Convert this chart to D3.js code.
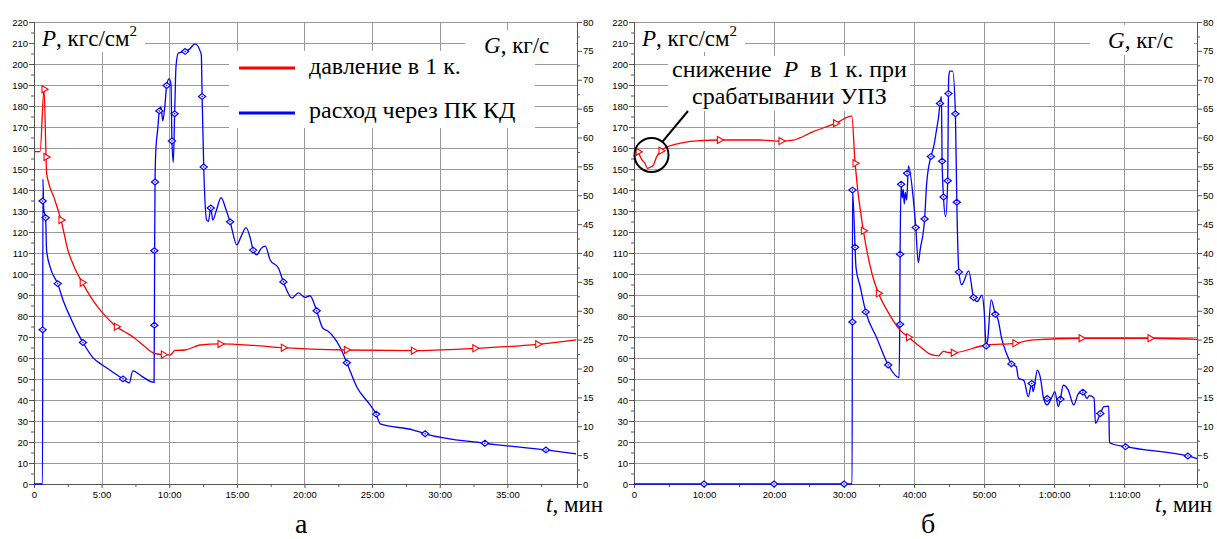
<!DOCTYPE html>
<html>
<head>
<meta charset="utf-8">
<script src="https://cdn.jsdelivr.net/npm/d3@7"></script>
<style>
body { margin: 0; background: #fff; }
</style>
</head>
<body>
<script>
// --- data, [minutes, value] ---
// panel "а": pressure P (kgf/cm2, left axis) and flow G (kg/s, right axis)
var pressA = [[0,158.3],[0.45,158.3],[0.74,188],[0.89,155.7],[0.93,148],[1.5,136],[2.0,125.7],[2.5,111.5],
  [3.0,103],[3.57,95.9],[4.2,89],[4.88,82.9],[5.5,78.5],[6.09,74.9],[6.7,72.5],[7.35,69.9],[8.1,66],
  [8.9,62.2],[9.57,61.6],[10.06,61.4],[10.43,63.6],[11.17,63.8],[12.28,66.2],[13.76,66.7],[16.2,66.0],
  [18.44,64.9],[23.1,63.8],[28.05,63.5],[32.6,64.6],[37.25,66.5],[40.1,68.6]];
var flowA = [[0,0],[0.63,0],[0.66,52.8],[0.72,47.5],[0.86,46.1],[0.93,40.5],[1.2,37.5],[1.75,34.7],
  [2.2,31.5],[2.66,29.0],[3.2,26.3],[3.62,24.5],[4.39,21.8],[5.0,20.7],[5.62,19.7],[6.58,18.2],[7.05,17.5],
  [7.3,19.6],[8.0,18.6],[8.88,17.6],[8.92,40],[8.95,52.3],[9.0,57.3],[9.15,61.5],[9.27,64.6],[9.39,65.3],
  [9.52,62.9],[9.67,65.3],[9.81,69.0],[10.0,70.2],[10.13,69.1],[10.2,59.4],[10.3,55.7],[10.4,64.1],
  [10.5,72.3],[10.67,74.6],[11.17,74.9],[11.5,75.3],[11.9,76.2],[12.37,74.4],[12.43,67.1],[12.55,54.9],
  [12.77,45.7],[12.9,45.5],[13.07,47.8],[13.22,45.7],[13.5,47.5],[13.83,49.6],[14.2,47.5],[14.5,45.4],
  [15.0,41.4],[15.3,42.8],[15.68,44.4],[16.0,42.5],[16.2,40.5],[16.47,39.7],[16.8,40.8],[17.1,41.2],
  [17.46,38.8],[18.07,37.4],[18.44,35.0],[19.08,32.2],[19.55,33.1],[20.04,32.3],[20.4,32.6],[20.9,30.0],
  [21.35,27.0],[21.77,26.4],[22.6,23.8],[23.13,21.0],[23.87,16.8],[24.85,13.7],[25.3,12.1],[25.6,10.4],
  [28.05,9.35],[28.92,8.7],[33.34,7.05],[37.85,5.9],[40.09,5.2]];
var pressMarksA = [[0.74,188],[0.89,155.7],[2.0,125.7],[3.57,95.9],[6.09,74.9],[9.57,61.6],[13.76,66.7],
  [18.44,64.9],[23.1,63.8],[28.05,63.5],[32.6,64.6],[37.25,66.5]];
var flowMarksA = [[0.64,26.7],[0.64,49],[0.86,46.1],[1.75,34.7],[3.62,24.5],[6.58,18.2],[8.9,27.5],
  [8.9,40.4],[8.95,52.3],[9.27,64.6],[9.81,69.0],[10.2,59.4],[10.4,64.1],[11.17,74.9],[12.43,67.1],
  [12.55,54.9],[13.07,47.8],[14.5,45.4],[16.2,40.5],[18.44,35.0],[20.9,30.0],[23.13,21.0],[25.3,12.1],
  [28.92,8.7],[33.34,7.05],[37.85,5.9]];

// panel "б"
var pressB = [[0.6,158.2],[1.14,154.3],[1.57,152.7],[1.9,150.3],[2.29,150.8],[2.76,151.9],[3.24,155.9],
  [3.86,158.7],[4.71,160.6],[9.43,163.5],[12.2,163.8],[18,163.8],[21,163.3],[22.76,163.8],[25.6,167.8],
  [28.8,171.8],[31.1,175.2],[31.57,152.7],[32.76,120.6],[33.24,111.4],[34.0,100],[34.9,90.8],[36.1,82.9],
  [38.0,73.3],[39.2,69.9],[40.86,65.4],[42.3,61.8],[43.5,61.0],[44.2,63.3],[44.6,62.8],[45.6,62.5],
  [50.3,66.2],[54.4,67.0],[57.0,68.6],[63.86,69.4],[73.7,69.4],[80.4,68.9]];
var flowB = [[0,0],[31.15,0],[31.2,50.9],[31.57,41],[31.7,37.5],[32.3,34.2],[33.1,29.8],[34.7,25.2],
  [36.3,20.6],[37.86,18.4],[37.95,27.65],[38.0,39.8],[38.15,51.9],[38.3,49.5],[38.45,51],[38.6,48.5],
  [38.75,50.5],[38.95,49.2],[39.19,55.1],[39.9,49.2],[40.24,44.4],[40.6,38.3],[40.86,40.5],[41.5,45.9],
  [41.8,52.1],[42.4,56.7],[42.8,58.4],[43.2,61.3],[43.5,63.6],[43.7,65.9],[43.9,67.1],[44.0,55.9],
  [44.2,49.7],[44.5,46.3],[44.8,52.5],[44.9,67.6],[44.95,70.5],[45.1,71.5],[45.5,71.5],[45.9,64.1],
  [46.1,48.8],[46.4,36.7],[46.8,34.5],[47.8,36.9],[48.5,32.3],[49.0,31.6],[49.7,32.7],[50.0,30.1],
  [50.3,23.9],[50.5,24.9],[51.0,31.9],[51.6,29.4],[52.0,28.4],[52.5,25.2],[53.2,22.6],[53.9,20.8],
  [54.6,20.3],[54.9,18.3],[55.7,17.9],[56.3,15.1],[56.8,17.4],[57.0,16.0],[57.6,19.7],[58.0,18.6],
  [58.5,14.8],[59.0,13.7],[59.7,15.1],[60.1,16.0],[60.6,13.4],[60.9,14.7],[61.3,17.1],[62.0,16.3],
  [62.8,13.7],[63.5,15.7],[64.1,15.9],[64.7,14.8],[65.0,15.3],[65.7,14.9],[65.9,10.5],[66.6,12.2],
  [67.1,13.4],[67.8,13.5],[67.9,7.15],[70.2,6.46],[79.1,4.85],[80.4,4.4]];
var pressMarksB = [[0.6,158.2],[3.86,158.7],[12.2,163.8],[21,163.3],[28.8,171.8],[31.57,152.7],
  [32.76,120.6],[34.9,90.8],[39.2,69.9],[45.6,62.5],[54.4,67.0],[63.86,69.4],[73.7,69.4]];
var flowMarksB = [[10,0],[20,0],[30,0],[31.2,28.05],[31.2,50.9],[31.57,41.0],[33.1,29.8],[36.3,20.6],
  [38.0,27.65],[38.0,39.8],[38.15,51.9],[39.0,53.8],[40.24,44.4],[41.5,45.9],[42.4,56.7],[43.7,65.9],
  [44.0,55.9],[44.2,49.7],[44.8,52.5],[44.9,67.6],[45.9,64.1],[46.1,48.8],[46.4,36.7],[48.5,32.3],
  [50.3,23.9],[51.6,29.4],[53.9,20.8],[56.8,17.4],[59.0,14.8],[60.9,14.7],[64.1,15.9],[66.6,12.2],
  [70.2,6.46],[79.1,4.85]];

// ticks
var pTicks = d3.range(0, 221, 10);
var gTicks = d3.range(0, 81, 5);
var tTicksA = d3.range(0, 40, 5);
var tTicksB = d3.range(0, 80, 10);
var legendNames = ["давление в 1 к.", "расход через ПК КД"];

var w = 1217, h = 539;
var serif = "'Liberation Serif','Times New Roman',serif";
var sans = "'Liberation Sans',Arial,sans-serif";

var svg = d3.select("body").append("svg")
    .attr("width", w)
    .attr("height", h);

function fmtMin(m) {
    if (m == 0) return "0";
    var hh = Math.floor(m / 60), mm = m % 60;
    if (hh > 0) return hh + ":" + (mm < 10 ? "0" + mm : mm) + ":00";
    return mm + ":00";
}

var diamond = "M-3.6,0L0,-2.9L3.6,0L0,2.9Z";

function drawPanel(p) {
    var x = d3.scaleLinear().domain([0, p.tMax]).range([p.left, p.right]);
    var yP = d3.scaleLinear().domain([0, 220]).range([484, 22]);
    var yG = d3.scaleLinear().domain([0, 80]).range([484, 22]);
    var g = svg.append("g");

    //grid
    g.selectAll("hgrid").data(pTicks).enter().append("line")
        .attr("x1", p.left).attr("x2", p.right)
        .attr("y1", function(d) { return Math.round(yP(d)) + 0.5; })
        .attr("y2", function(d) { return Math.round(yP(d)) + 0.5; })
        .attr("stroke", "#9a9a9a");
    g.selectAll("vgrid").data(p.tTicks.filter(function(d) { return d > 0; })).enter().append("line")
        .attr("x1", function(d) { return Math.round(x(d)) + 0.5; })
        .attr("x2", function(d) { return Math.round(x(d)) + 0.5; })
        .attr("y1", 22).attr("y2", 484)
        .attr("stroke", "#9a9a9a");

    //white label boxes
    g.selectAll("boxes").data(p.boxes).enter().append("rect")
        .attr("x", function(d) { return d[0]; })
        .attr("y", function(d) { return d[1]; })
        .attr("width", function(d) { return d[2]; })
        .attr("height", function(d) { return d[3]; })
        .attr("fill", "#fff");

    //axes
    function styleAxis(sel) {
        sel.selectAll("text").attr("font-family", sans).attr("font-size", "9.5px").attr("fill", "#000");
        sel.selectAll("line").attr("stroke", "#555");
        sel.select(".domain").attr("stroke", "#555");
    }
    g.append("g").attr("transform", "translate(" + p.left + ",0)")
        .call(d3.axisLeft(yP).tickValues(pTicks).tickSize(5).tickPadding(1)).call(styleAxis);
    g.append("g").attr("transform", "translate(" + p.left + ",0)")
        .call(d3.axisLeft(yP).tickValues(d3.range(5, 220, 10)).tickSize(3).tickFormat("")).call(styleAxis);
    g.append("g").attr("transform", "translate(" + p.right + ",0)")
        .call(d3.axisRight(yG).tickValues(gTicks).tickSize(5).tickPadding(1)).call(styleAxis);
    g.append("g").attr("transform", "translate(" + p.right + ",0)")
        .call(d3.axisRight(yG).tickValues(d3.range(2.5, 80, 5)).tickSize(3).tickFormat("")).call(styleAxis);
    g.append("g").attr("transform", "translate(0,484)")
        .call(d3.axisBottom(x).tickValues(p.tTicks).tickSize(4).tickPadding(3).tickFormat(fmtMin)).call(styleAxis);
    g.append("g").attr("transform", "translate(0,484)")
        .call(d3.axisBottom(x).tickValues(p.tTicks.map(function(d) { return d + p.step / 2; }))
            .tickSize(3).tickFormat("")).call(styleAxis);

    //lines
    var lineP = d3.line().x(function(d) { return x(d[0]); }).y(function(d) { return yP(d[1]); })
        .curve(d3.curveMonotoneX);
    var lineG = d3.line().x(function(d) { return x(d[0]); }).y(function(d) { return yG(d[1]); })
        .curve(d3.curveMonotoneX);
    g.append("path").datum(p.flow).attr("d", lineG)
        .attr("fill", "none").attr("stroke", "#0000ff").attr("stroke-width", 1.3);
    g.append("path").datum(p.press).attr("d", lineP)
        .attr("fill", "none").attr("stroke", "#ff0000").attr("stroke-width", 1.3);

    //markers
    g.selectAll("gmark").data(p.flowMarks).enter().append("path")
        .attr("d", diamond)
        .attr("transform", function(d) { return "translate(" + x(d[0]) + "," + yG(d[1]) + ")"; })
        .attr("fill", "#fff").attr("stroke", "#0000ff").attr("stroke-width", 1.2);
    g.selectAll("gdot").data(p.flowMarks).enter().append("circle")
        .attr("cx", function(d) { return x(d[0]); })
        .attr("cy", function(d) { return yG(d[1]); })
        .attr("r", 0.8).attr("fill", "#0000ff");
    g.selectAll("pmark").data(p.pressMarks).enter().append("path")
        .attr("d", d3.symbol(d3.symbolTriangle, 22))
        .attr("transform", function(d) { return "translate(" + x(d[0]) + "," + yP(d[1]) + ") rotate(90)"; })
        .attr("fill", "#fff").attr("stroke", "#ff0000").attr("stroke-width", 1.1);

    //axis titles
    var tp = g.append("text").attr("x", p.left + 8).attr("y", 46)
        .attr("font-family", serif).attr("font-size", "23px");
    tp.append("tspan").attr("font-style", "italic").text("P");
    tp.append("tspan").text(", кгс/см");
    tp.append("tspan").attr("font-size", "15px").attr("dy", -10).text("2");

    var tg = g.append("text").attr("x", p.gx).attr("y", p.gy)
        .attr("font-family", serif).attr("font-size", "23px");
    tg.append("tspan").attr("font-style", "italic").text("G");
    tg.append("tspan").text(", кг/с");

    var tt = g.append("text").attr("x", p.tx).attr("y", 512)
        .attr("font-family", serif).attr("font-size", "23px");
    tt.append("tspan").attr("font-style", "italic").text("t");
    tt.append("tspan").text(", мин");

    g.append("text").attr("x", p.capX).attr("y", 533)
        .attr("font-family", serif).attr("font-size", "28px").text(p.caption);

    return {x: x, yP: yP, g: g};
}

// panel а
var pa = drawPanel({
    left: 34, right: 577, tMax: 40.15, tTicks: tTicksA, step: 5,
    press: pressA, flow: flowA, pressMarks: pressMarksA, flowMarks: flowMarksA,
    boxes: [[35, 23, 110, 29], [229, 51, 306, 77], [465, 30, 111, 29]],
    gx: 484, gy: 53, tx: 546, capX: 295, caption: "а"
});

// legend
var legColors = ["#ff0000", "#0000ff"];
pa.g.selectAll("legline").data(legendNames).enter().append("line")
    .attr("x1", 239).attr("x2", 295)
    .attr("y1", function(d, i) { return 68 + i * 45; })
    .attr("y2", function(d, i) { return 68 + i * 45; })
    .attr("stroke", function(d, i) { return legColors[i]; })
    .attr("stroke-width", 3);
pa.g.selectAll("legtext").data(legendNames).enter().append("text")
    .attr("x", 309)
    .attr("y", function(d, i) { return 74 + i * 44; })
    .attr("font-family", serif).attr("font-size", "24px")
    .text(function(d) { return d; });

// panel б
var pb = drawPanel({
    left: 634, right: 1197, tMax: 80.4, tTicks: tTicksB, step: 10,
    press: pressB, flow: flowB, pressMarks: pressMarksB, flowMarks: flowMarksB,
    boxes: [[635, 23, 110, 29], [668, 56, 242, 55], [1090, 25, 104, 30]],
    gx: 1108, gy: 48, tx: 1155, capX: 921, caption: "б"
});

// annotation about the dip
var ann = pb.g.append("text").attr("x", 672).attr("y", 77)
    .attr("font-family", serif).attr("font-size", "24px").style("white-space", "pre");
ann.append("tspan").text("снижение  ");
ann.append("tspan").attr("font-style", "italic").text("P");
ann.append("tspan").text("  в 1 к. при");
pb.g.append("text").attr("x", 692).attr("y", 104)
    .attr("font-family", serif).attr("font-size", "24px").text("срабатывании УПЗ");

var cx = pb.x(2.5), cy = pb.yP(156.7), r = 17;
pb.g.append("circle").attr("cx", cx).attr("cy", cy).attr("r", r)
    .attr("fill", "none").attr("stroke", "#000").attr("stroke-width", 2);
var ang = Math.atan2(111 - cy, 688 - cx);
pb.g.append("line")
    .attr("x1", cx + r * Math.cos(ang)).attr("y1", cy + r * Math.sin(ang))
    .attr("x2", 688).attr("y2", 111)
    .attr("stroke", "#000").attr("stroke-width", 2);
</script>
</body>
</html>
